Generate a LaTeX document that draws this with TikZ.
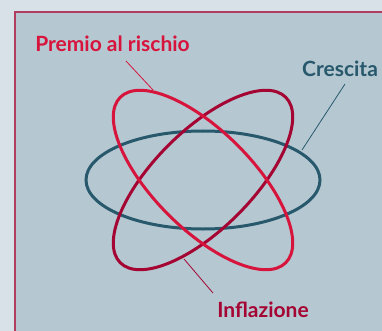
\documentclass[tikz,border=0pt]{standalone}
\usepackage{fontspec}
\setmainfont{Lato}
\definecolor{outerbg}{RGB}{215,225,231}
\definecolor{innerbg}{RGB}{181,200,210}
\definecolor{framecol}{RGB}{176,60,95}
\definecolor{tealc}{RGB}{40,88,108}
\definecolor{crimc}{RGB}{215,20,60}
\definecolor{darkr}{RGB}{165,5,50}
\tikzset{
  orbit/.style={line width=3pt},
  leader/.style={line width=0.8pt},
  lbl/.style={font=\fontsize{21}{24}\selectfont\bfseries, anchor=base, inner sep=0pt}
}
\begin{document}
\begin{tikzpicture}[x=1pt,y=-1pt]
\useasboundingbox (0,0) rectangle (382,331);
\clip (0,0) rectangle (382,331);
\fill[outerbg] (0,0) rectangle (382,331);
\draw[framecol, fill=innerbg, line width=2pt] (15,12) rectangle (400,350);
\coordinate (c) at (203,180);
\draw[orbit, tealc] (c) ellipse [x radius=117pt, y radius=49pt];
\draw[orbit, darkr, rotate around={45:(c)}] (c) ellipse [x radius=117pt, y radius=49pt];
\draw[orbit, crimc, rotate around={-45:(c)}] (c) ellipse [x radius=117pt, y radius=49pt];
\node[lbl, text=crimc] (premio) at (112.5,52) {Premio al rischio};
\node[lbl, text=tealc] (crescita) at (340,77) {Crescita};
\node[lbl, text=darkr] (inflazione) at (263,317) {Inflazione};
\coordinate (p1) at (126,61);
\coordinate (p2) at (153,90);
\coordinate (c1) at (345,84);
\coordinate (c2) at (302,150);
\coordinate (i1) at (184,259);
\coordinate (i2) at (213,293);
\draw[leader, crimc] (p1) -- (p2);
\draw[leader, tealc] (c1) -- (c2);
\draw[leader, darkr] (i2) -- (i1);
\end{tikzpicture}
\end{document}
